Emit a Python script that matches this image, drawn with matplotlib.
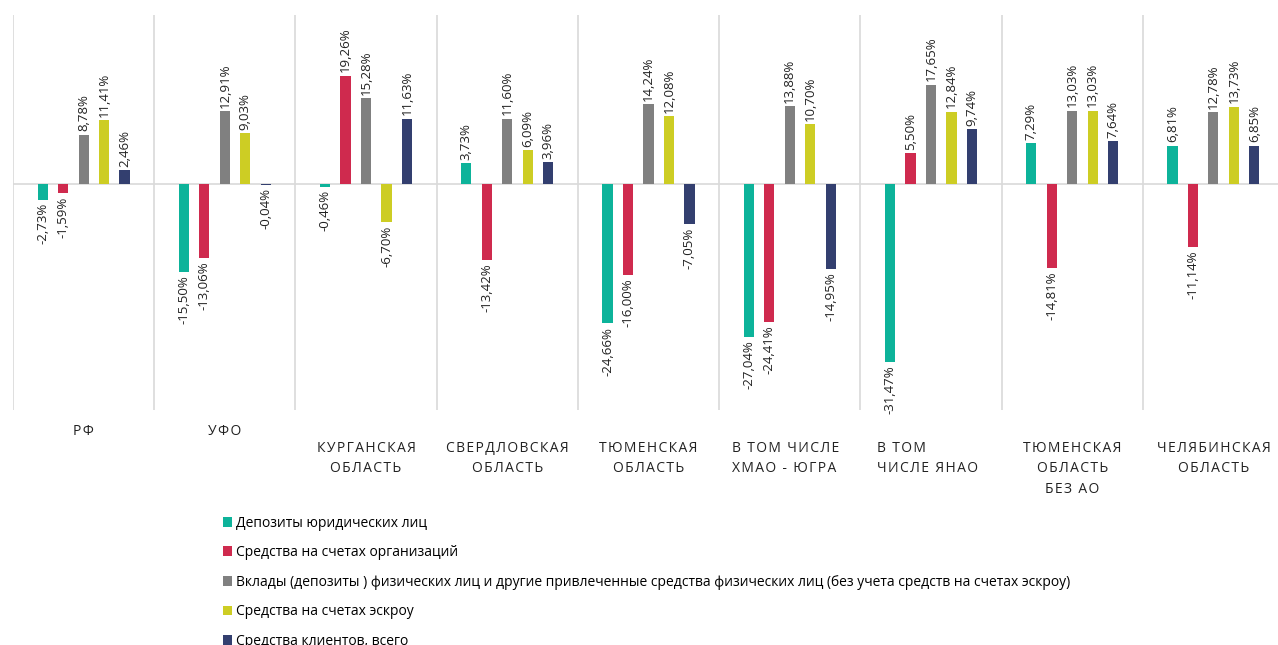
import matplotlib.pyplot as plt
from matplotlib.patches import Patch

plt.rcParams['font.family'] = ['Open Sans', 'DejaVu Sans']

# --- Data ---
categories = ['РФ', 'УФО', 'КУРГАНСКАЯ\nОБЛАСТЬ', 'СВЕРДЛОВСКАЯ\nОБЛАСТЬ',
              'ТЮМЕНСКАЯ\nОБЛАСТЬ', 'В ТОМ ЧИСЛЕ\nХМАО - ЮГРА', 'В ТОМ\nЧИСЛЕ ЯНАО',
              'ТЮМЕНСКАЯ\nОБЛАСТЬ\nБЕЗ АО', 'ЧЕЛЯБИНСКАЯ\nОБЛАСТЬ']

series_names = [
    'Депозиты юридических лиц',
    'Средства на счетах организаций',
    'Вклады (депозиты ) физических лиц и другие привлеченные средства физических лиц (без учета средств на счетах эскроу)',
    'Средства на счетах эскроу',
    'Средства клиентов, всего',
]

deposits_legal = [-2.73, -15.50, -0.46, 3.73, -24.66, -27.04, -31.47, 7.29, 6.81]
org_accounts = [-1.59, -13.06, 19.26, -13.42, -16.00, -24.41, 5.50, -14.81, -11.14]
individual_deposits = [8.78, 12.91, 15.28, 11.60, 14.24, 13.88, 17.65, 13.03, 12.78]
escrow = [11.41, 9.03, -6.70, 6.09, 12.08, 10.70, 12.84, 13.03, 13.73]
clients_total = [2.46, -0.04, 11.63, 3.96, -7.05, -14.95, 9.74, 7.64, 6.85]

series = [deposits_legal, org_accounts, individual_deposits, escrow, clients_total]
colors = ['#0db39a', '#cf2a4e', '#808080', '#cdcd24', '#333f6f']

# --- Plotting ---
fig = plt.figure(figsize=(12.78, 6.45), dpi=100)
ax = fig.add_axes([13 / 1278, 1 - 410 / 645, 1271 / 1278, 395 / 645])

n = len(categories)
bar_w = 0.072
step = 0.145
for i, (vals, col) in enumerate(zip(series, colors)):
    xs = [c + (i - 2) * step for c in range(n)]
    ax.bar(xs, vals, width=bar_w, color=col, zorder=2)
    for x, v in zip(xs, vals):
        txt = f'{v:.2f}%'.replace('.', ',')
        off = 0.6 if v >= 0 else -0.6
        ax.text(x, v + off, txt, rotation=90, ha='center',
                va='bottom' if v >= 0 else 'top', fontsize=9.5, color='#222222')

ax.axhline(0, color='#d9d9d9', lw=1.2, zorder=1)
for b in range(n):
    ax.axvline(b - 0.5, color='#d9d9d9', lw=1.2, zorder=1)

ax.set_xlim(-0.5, n - 0.5)
ax.set_ylim(-40, 30)
ax.set_xticks([])
ax.set_yticks([])
for s in ax.spines.values():
    s.set_visible(False)

# category labels with slight letter spacing
hair = '\u200a'
for c, name in enumerate(categories):
    lines = name.split('\n')
    spaced = '\n'.join(hair.join(ln) for ln in lines)
    y = -0.035 if c < 2 else -0.078
    ha = 'center'
    xpos = c
    if c in (5, 6):
        ha = 'left'
        xpos = c - 0.41 if c == 5 else c - 0.38
    ax.text(xpos, y, spaced, transform=ax.get_xaxis_transform(), ha=ha, va='top',
            fontsize=10, color='#222222', linespacing=1.5, multialignment=ha)

handles = [Patch(facecolor=col, label=lbl) for col, lbl in zip(colors, series_names)]
fig.legend(handles=handles, loc='upper left', bbox_to_anchor=(217 / 1278, 1 - 510 / 645),
           frameon=False, fontsize=10, handlelength=0.7, handleheight=0.7,
           handletextpad=0.3, labelspacing=1.05, borderaxespad=0)

plt.savefig('out.png', dpi=100)
